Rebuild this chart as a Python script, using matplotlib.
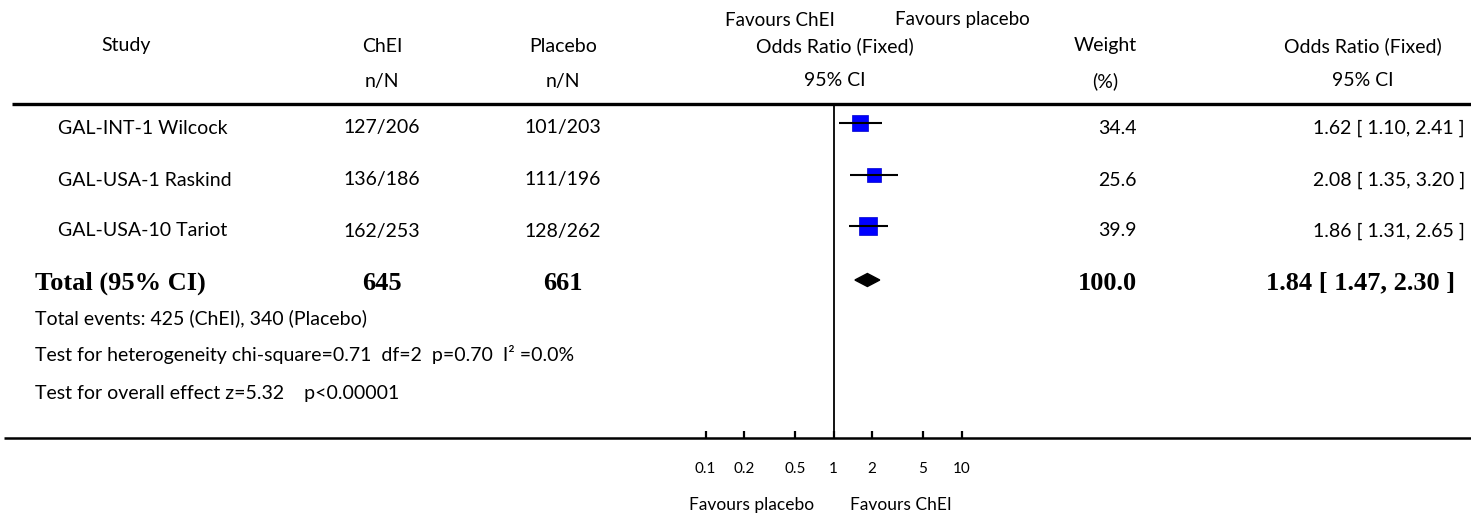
import numpy as np
import matplotlib
matplotlib.use("Agg")
import matplotlib.pyplot as plt
from matplotlib.ticker import NullLocator

# ---- data ----
studies = ["GAL-INT-1 Wilcock", "GAL-USA-1 Raskind", "GAL-USA-10 Tariot"]
chei_events = [127, 136, 162]
chei_total = [206, 186, 253]
placebo_events = [101, 111, 128]
placebo_total = [203, 196, 262]
weights = [34.4, 25.6, 39.9]
odds_ratio = [1.62, 2.08, 1.86]
ci_low = [1.10, 1.35, 1.31]
ci_high = [2.41, 3.20, 2.65]

pooled_or = 1.84
pooled_low = 1.47
pooled_high = 2.30
pooled_weight = 100.0

axis_ticks = [0.1, 0.2, 0.5, 1, 2, 5, 10]
axis_tick_labels = ["0.1", "0.2", "0.5", "1", "2", "5", "10"]

heterogeneity = "Test for heterogeneity chi-square=0.71  df=2  p=0.70  I\u00b2 =0.0%"
overall_effect = "Test for overall effect z=5.32    p<0.00001"

# ---- layout (pixel space) ----
W, H = 1471, 515
SANS = ["Lato", "DejaVu Sans"]
SERIF = ["Liberation Serif", "DejaVu Serif"]
FS = 14
FS_BOLD = 19

fig = plt.figure(figsize=(W / 100, H / 100), dpi=100)
bg = fig.add_axes([0, 0, 1, 1])
bg.set_xlim(0, W)
bg.set_ylim(H, 0)
bg.axis("off")


def px_axes(x0, y0, x1, y1):
    return fig.add_axes([x0 / W, 1 - y1 / H, (x1 - x0) / W, (y1 - y0) / H])


def txt(x, y, s, ha="center", bold=False, size=None):
    if bold:
        bg.text(x, y, s, ha=ha, va="center", fontsize=size or FS_BOLD,
                family=SERIF, fontweight="bold")
    else:
        bg.text(x, y, s, ha=ha, va="center", fontsize=size or FS, family=SANS)


row_y = [123, 175, 226]
total_y = 280
text_dy = 5

col_study = 58
col_chei = 382
col_plac = 563
col_weight = 1137
col_ci = 1465

# header
txt(780, 20, "Favours ChEI", size=13.5)
txt(962, 20, "Favours placebo", size=13.5)
head1, head2 = 46, 81
txt(126, head1, "Study")
txt(col_chei, head1, "ChEI")
txt(col_chei, head2, "n/N")
txt(col_plac, head1, "Placebo")
txt(col_plac, head2, "n/N")
txt(835, head1, "Odds Ratio (Fixed)")
txt(835, head2, "95% CI")
txt(1105, head1, "Weight")
txt(1105, head2, "(%)")
txt(1363, head1, "Odds Ratio (Fixed)")
txt(1363, head2, "95% CI")

bg.plot([12, W], [104, 104], color="black", lw=2.4, solid_capstyle="butt")
bg.plot([4, W], [438, 438], color="black", lw=1.8, solid_capstyle="butt")

# study rows
for i, name in enumerate(studies):
    y = row_y[i] + text_dy
    txt(col_study, y, name, ha="left")
    txt(col_chei, y, f"{chei_events[i]}/{chei_total[i]}")
    txt(col_plac, y, f"{placebo_events[i]}/{placebo_total[i]}")
    txt(col_weight, y, f"{weights[i]:.1f}", ha="right")
    txt(col_ci, y, f"{odds_ratio[i]:.2f} [ {ci_low[i]:.2f}, {ci_high[i]:.2f} ]", ha="right")

# totals
ty = total_y + 3
txt(35, ty, "Total (95% CI)", ha="left", bold=True)
txt(col_chei, ty, f"{sum(chei_total)}", bold=True)
txt(col_plac, ty, f"{sum(placebo_total)}", bold=True)
txt(col_weight, ty, f"{pooled_weight:.1f}", ha="right", bold=True)
txt(col_ci - 10, ty, f"{pooled_or:.2f} [ {pooled_low:.2f}, {pooled_high:.2f} ]",
    ha="right", bold=True)

txt(35, 318, f"Total events: {sum(chei_events)} (ChEI), {sum(placebo_events)} (Placebo)", ha="left")
txt(35, 355, heterogeneity, ha="left")
txt(35, 393, overall_effect, ha="left")

# forest panel: log odds-ratio axis
ax = px_axes(705.5, 104, 961.5, 438)
ax.set_xscale("log")
ax.set_xlim(0.1, 10)
ax.set_ylim(438, 104)
ax.patch.set_alpha(0)
for sp in ax.spines.values():
    sp.set_visible(False)
ax.set_xticks(axis_ticks)
ax.set_xticklabels(axis_tick_labels, family=SANS, fontsize=11)
ax.xaxis.set_minor_locator(NullLocator())
ax.tick_params(axis="x", direction="in", length=5, width=1.6, pad=17)
ax.set_yticks([])

ax.axvline(1, color="black", lw=1.3, zorder=1)

for i in range(len(studies)):
    y = row_y[i]
    side = 2.0 * np.sqrt(weights[i])
    ax.plot([odds_ratio[i]], [y], marker="s", ms=side, color="#0000ff",
            mec="#0000cc", mew=0.5, zorder=3, clip_on=False)
    ax.plot([ci_low[i], ci_high[i]], [y, y], color="black", lw=1.5,
            zorder=4, clip_on=False, solid_capstyle="butt")

dh = 6.5
ax.fill([pooled_low, pooled_or, pooled_high, pooled_or],
        [total_y, total_y - dh, total_y, total_y + dh],
        color="black", zorder=3, clip_on=False)

txt(752, 505, "Favours placebo", size=12.5)
txt(901, 505, "Favours ChEI", size=12.5)

fig.savefig("out.png", dpi=100)
